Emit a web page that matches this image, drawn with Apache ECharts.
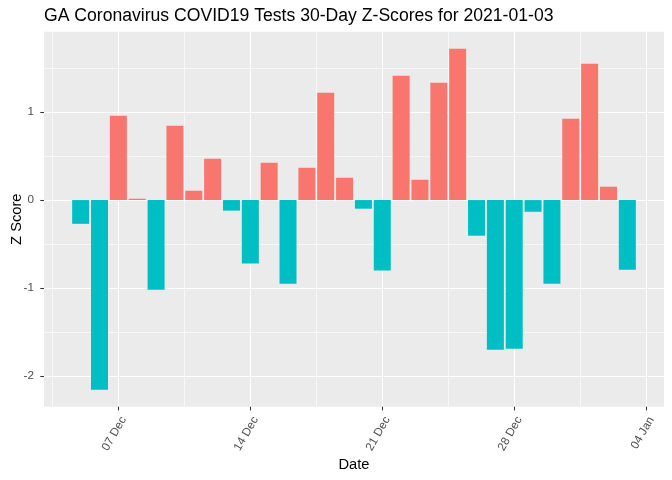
<!DOCTYPE html>
<html>
<head>
<meta charset="utf-8">
<script src="https://cdn.jsdelivr.net/npm/echarts@6/dist/echarts.min.js"></script>
<style>html,body{margin:0;padding:0;background:#fff}#c{width:672px;height:480px}</style>
</head>
<body>
<div id="c"></div>
<script>
const titleText = 'GA Coronavirus COVID19 Tests 30-Day Z-Scores for 2021-01-03';
const dates = ['2020-12-05','2020-12-06','2020-12-07','2020-12-08','2020-12-09','2020-12-10','2020-12-11','2020-12-12','2020-12-13','2020-12-14','2020-12-15','2020-12-16','2020-12-17','2020-12-18','2020-12-19','2020-12-20','2020-12-21','2020-12-22','2020-12-23','2020-12-24','2020-12-25','2020-12-26','2020-12-27','2020-12-28','2020-12-29','2020-12-30','2020-12-31','2021-01-01','2021-01-02','2021-01-03'];
const zScores = [-0.27,-2.155,0.958,0.015,-1.02,0.845,0.106,0.47,-0.12,-0.72,0.424,-0.951,0.367,1.22,0.254,-0.098,-0.80,1.413,0.231,1.333,1.72,-0.405,-1.70,-1.689,-0.133,-0.951,0.924,1.549,0.152,-0.792];
const xTickDates = ['2020-12-07','2020-12-14','2020-12-21','2020-12-28','2021-01-04'];
const xTickLabels = ['07 Dec','14 Dec','21 Dec','28 Dec','04 Jan'];
const yTicks = [-2,-1,0,1];
const yMinorTicks = [-1.5,-0.5,0.5,1.5];

const base = Date.UTC(2020,10,30);
const dayNum = d => Math.round((Date.parse(d + 'T00:00:00Z') - base) / 86400000);
const xs = dates.map(dayNum);
const xTicks = xTickDates.map(dayNum);
const xMinor = xTicks.map(v => v - 3.5);

// ggplot-like 5% expansion
const xLo = Math.min(...xs) - 0.45, xHi = Math.max(...xs) + 0.45;
const xMin = xLo - (xHi - xLo) * 0.05, xMax = xHi + (xHi - xLo) * 0.05;
const yLo = Math.min(...zScores, 0), yHi = Math.max(...zScores, 0);
const yMin = yLo - (yHi - yLo) * 0.05, yMax = yHi + (yHi - yLo) * 0.05;

const FONT = '"Liberation Sans", Arial, sans-serif';
const chart = echarts.init(document.getElementById('c'));
chart.setOption({
  animation: false,
  backgroundColor: '#ffffff',
  title: {
    text: titleText, left: 44, top: 7, padding: 0,
    textStyle: {fontFamily: FONT, fontSize: 17.6, fontWeight: 'normal', color: '#000'}
  },
  grid: {left: 44, right: 8, top: 31.7, bottom: 73.3, show: true, backgroundColor: '#EBEBEB', borderWidth: 0, containLabel: false, outerBoundsMode: 'none'},
  xAxis: [{
    type: 'value', min: xMin, max: xMax,
    name: 'Date', nameLocation: 'middle', nameGap: 51, nameMoveOverlap: false,
    nameTextStyle: {fontFamily: FONT, fontSize: 14.7, color: '#000'},
    axisLine: {show: false, onZero: false},
    axisTick: {show: true, length: 3.7, lineStyle: {color: '#333333', width: 1.07}, customValues: xTicks},
    axisLabel: {
      customValues: xTicks, rotate: 60, margin: 8, align: 'right', verticalAlign: 'top',
      fontFamily: FONT, fontSize: 11.7, color: '#4D4D4D',
      formatter: v => { const i = xTicks.indexOf(Math.round(v)); return i >= 0 ? xTickLabels[i] : ''; }
    },
    splitLine: {show: true, lineStyle: {color: '#ffffff', width: 1.07}}
  }, {
    type: 'value', min: xMin, max: xMax, position: 'bottom',
    axisLine: {show: false, onZero: false},
    axisTick: {show: false, customValues: xMinor},
    axisLabel: {show: false, customValues: xMinor},
    splitLine: {show: true, lineStyle: {color: '#ffffff', width: 0.6}}
  }],
  yAxis: [{
    type: 'value', min: yMin, max: yMax,
    name: 'Z Score', nameLocation: 'middle', nameGap: 20, nameRotate: 90, nameMoveOverlap: false,
    nameTextStyle: {fontFamily: FONT, fontSize: 14.7, color: '#000'},
    axisLine: {show: false, onZero: false},
    axisTick: {show: true, length: 3.7, lineStyle: {color: '#333333', width: 1.07}, customValues: yTicks},
    axisLabel: {customValues: yTicks, margin: 10, fontFamily: FONT, fontSize: 11.7, color: '#4D4D4D'},
    splitLine: {show: true, lineStyle: {color: '#ffffff', width: 1.07}}
  }, {
    type: 'value', min: yMin, max: yMax, position: 'left',
    axisLine: {show: false, onZero: false},
    axisTick: {show: false, customValues: yMinorTicks},
    axisLabel: {show: false, customValues: yMinorTicks},
    splitLine: {show: true, lineStyle: {color: '#ffffff', width: 0.6}}
  }],
  series: [{
    type: 'bar', xAxisIndex: 0, yAxisIndex: 0, barWidth: 17,
    data: xs.map((x, i) => ({value: [x, zScores[i]], itemStyle: {color: zScores[i] >= 0 ? '#F8766D' : '#00BFC4'}}))
  }]
});
</script>
</body>
</html>
